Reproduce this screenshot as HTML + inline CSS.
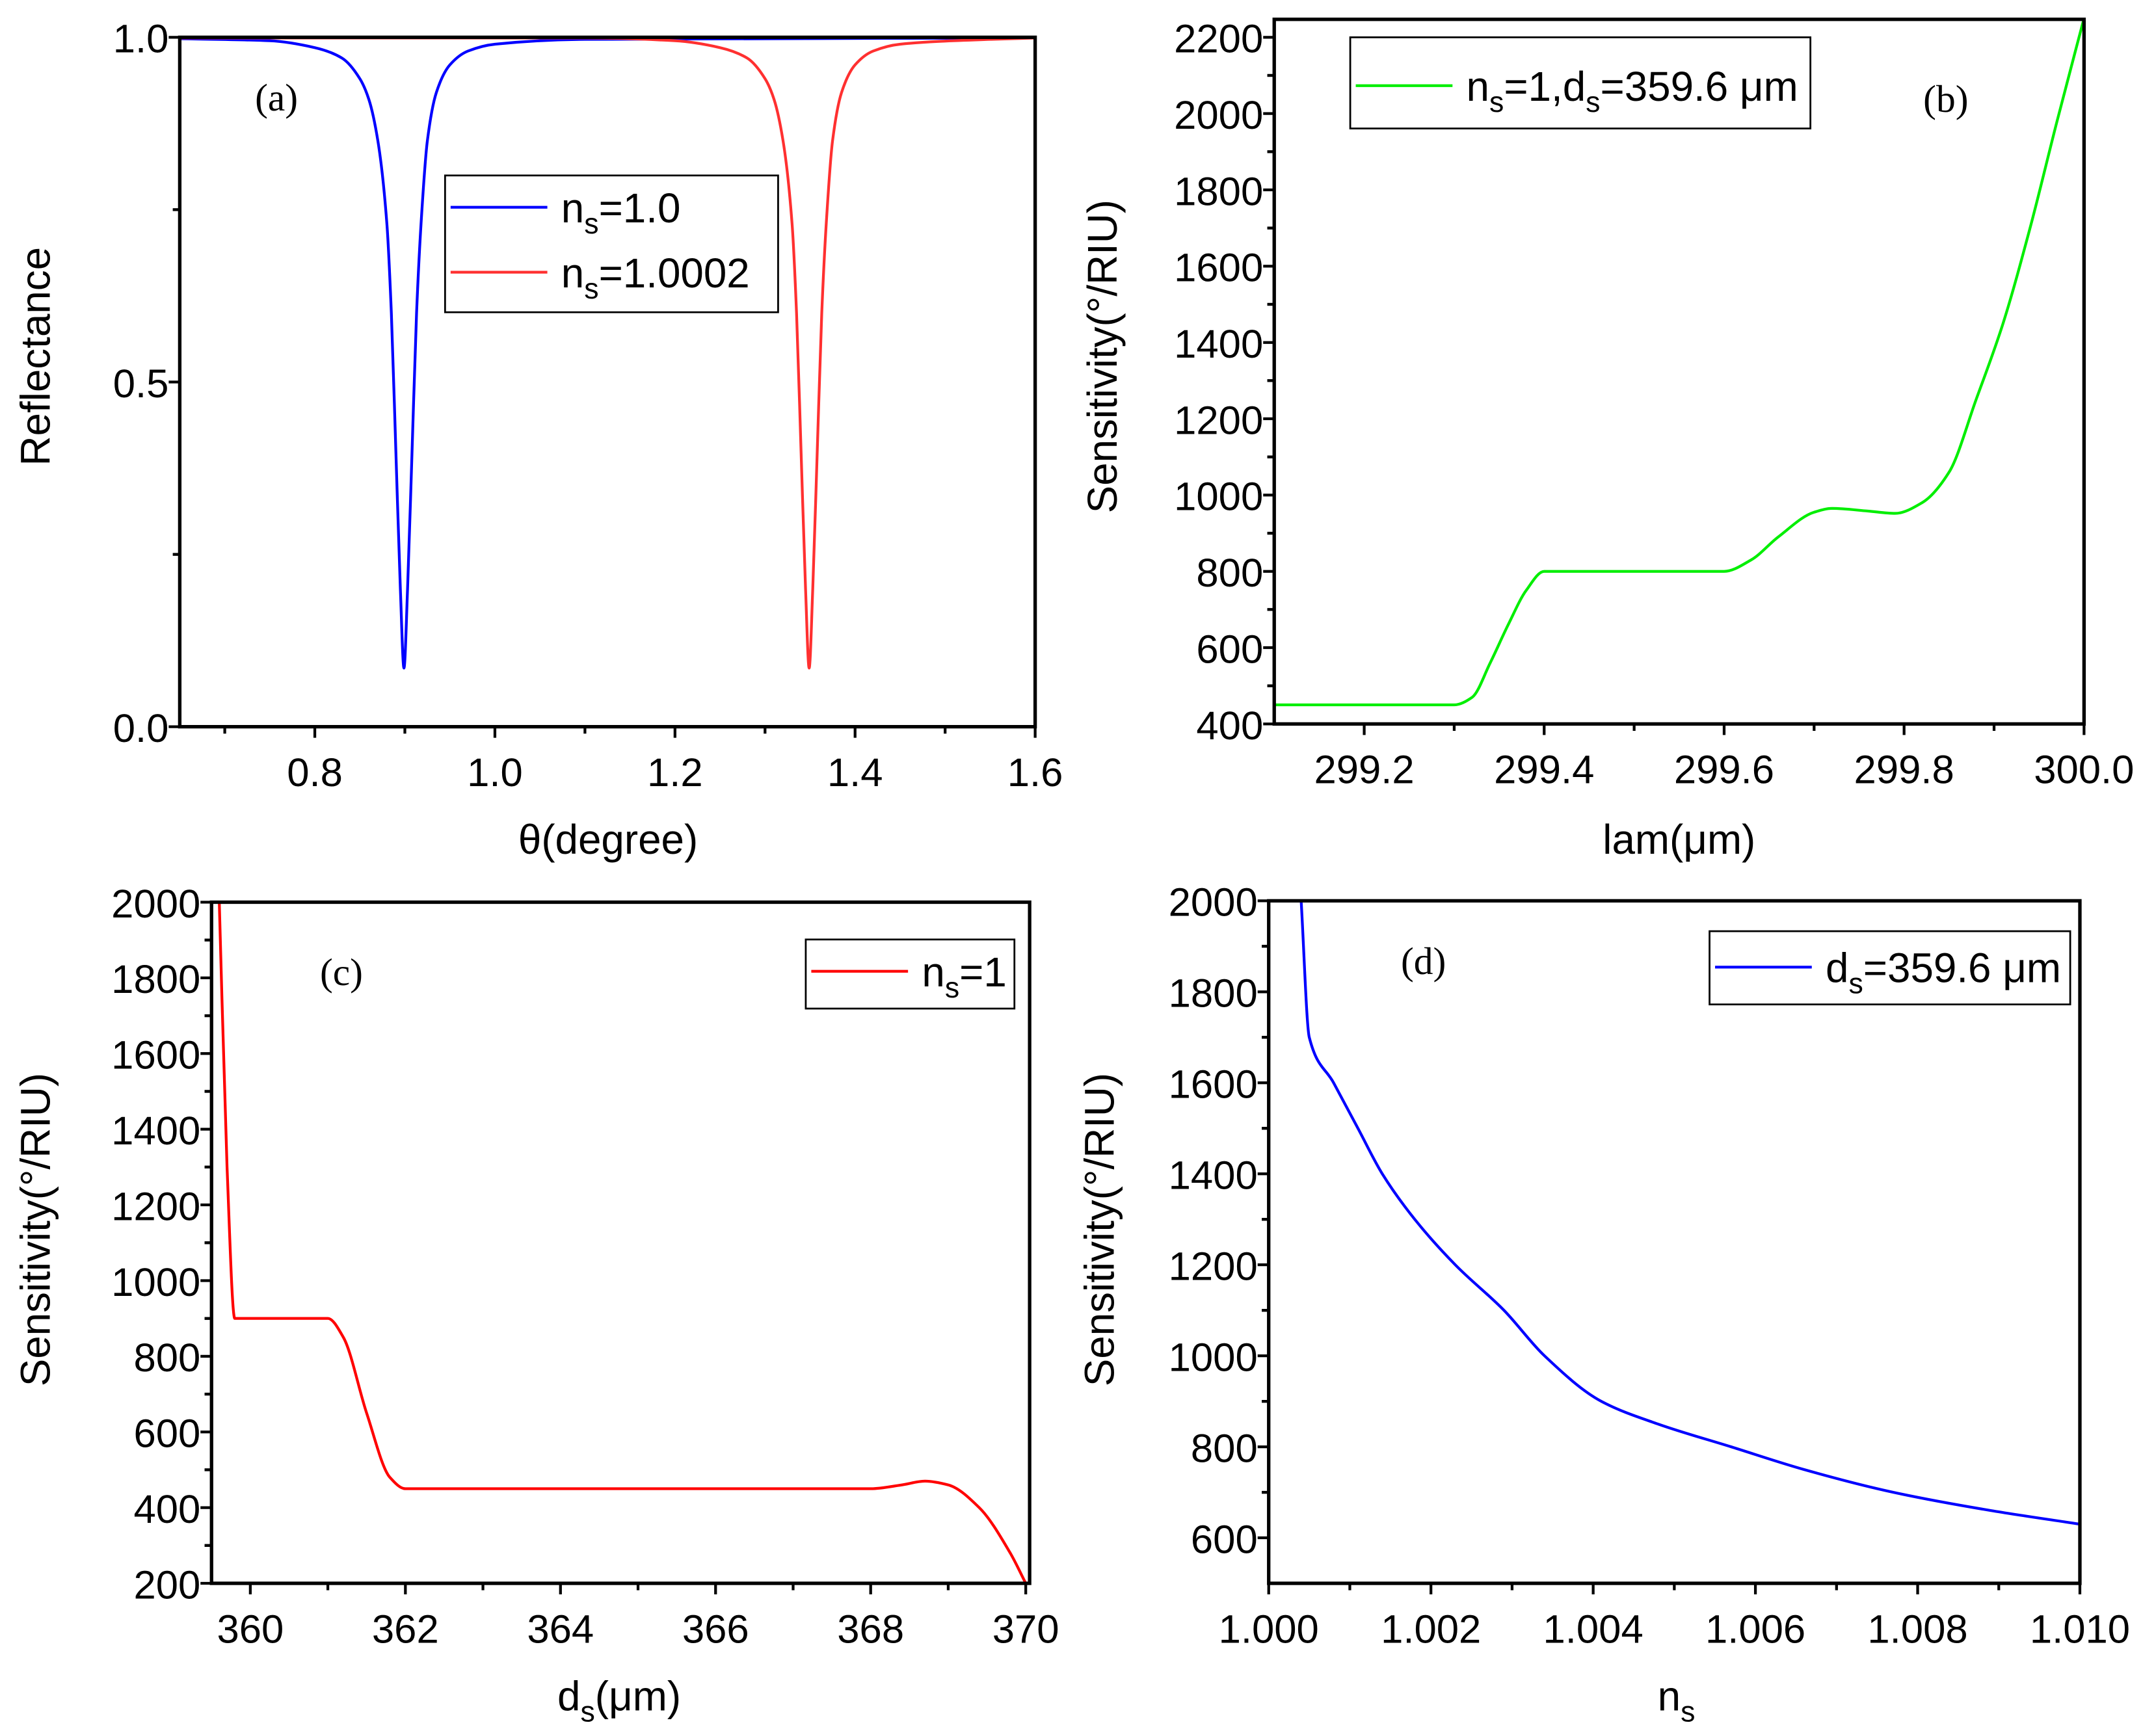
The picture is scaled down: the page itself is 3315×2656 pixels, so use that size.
<!DOCTYPE html>
<html><head><meta charset="utf-8"><style>
html,body{margin:0;padding:0;background:#fff}
svg{display:block}
text{font-family:"Liberation Sans",sans-serif;fill:#000}
.ser{font-family:"Liberation Serif",serif}
</style></head><body>
<svg id="fig" width="3315" height="2656" viewBox="0 0 1560 1250" xmlns="http://www.w3.org/2000/svg"></svg>
<script>
// ---- data ----
const aBlueX=[0.65,0.75,0.8,0.83,0.85,0.86,0.87,0.88,0.885,0.89,0.895,0.899,0.903,0.908,0.913,0.918,0.925,0.935,0.95,0.97,1.0,1.1,1.6];
const aBlueY=[0.998,0.995,0.985,0.97,0.94,0.91,0.85,0.73,0.6,0.4,0.2,0.085,0.2,0.4,0.6,0.73,0.85,0.92,0.96,0.98,0.99,0.997,0.999];
const aRedX=[0.65,1.1,1.2,1.25,1.28,1.3,1.31,1.32,1.33,1.335,1.34,1.345,1.349,1.353,1.358,1.363,1.368,1.375,1.385,1.4,1.42,1.45,1.55,1.6];
const aRedY=[0.999,0.999,0.995,0.985,0.97,0.94,0.91,0.85,0.73,0.6,0.4,0.2,0.085,0.2,0.4,0.6,0.73,0.85,0.92,0.96,0.98,0.99,0.997,0.999];
const bX=[299.1,299.3,299.32,299.34,299.36,299.38,299.4,299.6,299.63,299.66,299.7,299.72,299.76,299.79,299.82,299.85,299.88,299.91,299.94,299.97,300.0];
const bY=[450,450,470,560,660,750,800,800,830,890,955,965,958,952,980,1060,1250,1450,1700,1980,2250];
const cX=[359.6,359.7,359.8,361.0,361.2,361.5,361.8,362.0,368.0,368.4,368.7,369.0,369.4,369.8,370.0];
const cY=[2000,1300,900,900,850,650,480,450,450,460,470,460,400,280,200];
const dX=[1.0004,1.0005,1.0008,1.0011,1.0014,1.0018,1.0023,1.0029,1.0034,1.0041,1.0048,1.0057,1.0066,1.0077,1.0089,1.010];
const dY=[2000,1700,1600,1500,1400,1300,1200,1100,1000,900,850,800,750,700,660,630];
const aXTicks=[0.8,1.0,1.2,1.4,1.6], aXLabels=["0.8","1.0","1.2","1.4","1.6"];
const aYTicks=[0,0.5,1.0], aYLabels=["0.0","0.5","1.0"];
const bXTicks=[299.2,299.4,299.6,299.8,300.0], bXLabels=["299.2","299.4","299.6","299.8","300.0"];
const bYTicks=[400,600,800,1000,1200,1400,1600,1800,2000,2200], bYLabels=bYTicks.map(String);
const cXTicks=[360,362,364,366,368,370], cXLabels=cXTicks.map(String);
const cYTicks=[200,400,600,800,1000,1200,1400,1600,1800,2000], cYLabels=cYTicks.map(String);
const dXTicks=[1.000,1.002,1.004,1.006,1.008,1.010], dXLabels=["1.000","1.002","1.004","1.006","1.008","1.010"];
const dYTicks=[600,800,1000,1200,1400,1600,1800,2000], dYLabels=dYTicks.map(String);

const NS="http://www.w3.org/2000/svg", svg=document.getElementById('fig');
function mk(tag,at,parent){const e=document.createElementNS(NS,tag);for(const k in at)e.setAttribute(k,at[k]);(parent||svg).appendChild(e);return e;}
// monotone cubic (Fritsch-Carlson) in pixel space; x increasing
function smooth(p){const n=p.length;const dx=[],m=[],t=new Array(n);
  for(let i=0;i<n-1;i++){dx[i]=p[i+1][0]-p[i][0];m[i]=(p[i+1][1]-p[i][1])/dx[i];}
  t[0]=m[0];t[n-1]=m[n-2];
  for(let i=1;i<n-1;i++){if(m[i-1]*m[i]<=0)t[i]=0;else{const w1=2*dx[i]+dx[i-1],w2=dx[i]+2*dx[i-1];t[i]=(w1+w2)/(w1/m[i-1]+w2/m[i]);}}
  let d="M"+p[0][0]+","+p[0][1];
  for(let i=0;i<n-1;i++){const h=dx[i]/3;d+=` C${p[i][0]+h},${p[i][1]+t[i]*h} ${p[i+1][0]-h},${p[i+1][1]-t[i+1]*h} ${p[i+1][0]},${p[i+1][1]}`;}
  return d;}

function panel(o){
  const g=mk('g',{});
  
  
  const sx=v=>o.L+(v-o.x0)/(o.x1-o.x0)*(o.R-o.L);
  const sy=v=>o.B-(v-o.y0)/(o.y1-o.y0)*(o.B-o.T);
  o.xt.forEach((v,i)=>{const x=sx(v);mk('line',{x1:x,x2:x,y1:o.B,y2:o.B+8,stroke:'#000','stroke-width':2},g);
    const t=mk('text',{x:x,y:o.B+43,'text-anchor':'middle','font-size':29},g);t.textContent=o.xl[i];
    
    const m=v-o.xs/2; if(m>o.x0) {const xm=sx(m);mk('line',{x1:xm,x2:xm,y1:o.B,y2:o.B+5,stroke:'#000','stroke-width':2},g);}
    if(i==o.xt.length-1&&v+o.xs/2<o.x1){const xm=sx(v+o.xs/2);mk('line',{x1:xm,x2:xm,y1:o.B,y2:o.B+5,stroke:'#000','stroke-width':2},g);}
  });
  o.yt.forEach((v,i)=>{const y=sy(v);mk('line',{x1:o.L-8,x2:o.L,y1:y,y2:y,stroke:'#000','stroke-width':2},g);
    const t=mk('text',{x:o.L-8,y:y+11,'text-anchor':'end','font-size':29},g);t.textContent=o.yl[i];
    
    [v-o.ys/2,v+o.ys/2].forEach(m=>{if(m>o.y0&&m<o.y1){const ym=sy(m);mk('line',{x1:o.L-5,x2:o.L,y1:ym,y2:ym,stroke:'#000','stroke-width':2},g);}});
  });
  const cp=mk('clipPath',{id:'cp'+o.name},g);mk('rect',{x:o.L,y:o.T-1,width:o.R-o.L,height:o.B-o.T+1},cp);
  o.series.forEach(s=>{const pts=s.x.map((v,i)=>[sx(v),sy(s.y[i])]);
    const p=mk('path',{d:smooth(pts),fill:'none',stroke:s.c,'stroke-width':2,'clip-path':`url(#cp${o.name})`},g);
    });
  const f=mk('rect',{x:o.L,y:o.T,width:o.R-o.L,height:o.B-o.T,fill:'none',stroke:'#000','stroke-width':2.5},g);
  
  const xt=mk('text',{x:o.xtx,y:o.xty,'text-anchor':'middle','font-size':30},g);xt.innerHTML=o.xtitle;
  
  const yt=mk('text',{x:0,y:0,'text-anchor':'middle','font-size':30,transform:`translate(${o.ytx},${o.yty}) rotate(-90)`},g);yt.textContent=o.ytitle;
  
  const pl=mk('text',{x:o.plx,y:o.ply,'text-anchor':'middle','font-size':28,class:'ser'},g);pl.textContent=o.pl;
  
  const lg=mk('g',{},g);
  mk('rect',{x:o.lg[0],y:o.lg[1],width:o.lg[2],height:o.lg[3],fill:'#fff',stroke:'#000','stroke-width':1.3},lg);
  o.le.forEach(e=>{mk('line',{x1:o.lg[0]+4,x2:o.lg[0]+74,y1:e.y,y2:e.y,stroke:e.c,'stroke-width':2},lg);
    const t=mk('text',{x:o.lg[0]+84,y:e.y+11,'font-size':30},lg);t.innerHTML=e.t;
    });
}
const sub=s=>`<tspan font-size="21" dy="8">${s}</tspan><tspan dy="-8">`;
panel({name:'panel-a',L:130,R:749,T:27,B:526,x0:0.65,x1:1.6,y0:0,y1:1,xt:aXTicks,xl:aXLabels,xs:0.2,yt:aYTicks,yl:aYLabels,ys:0.5,
  series:[{x:aBlueX,y:aBlueY,c:'#0000ff',n:'series-ns-1.0'},{x:aRedX,y:aRedY,c:'#ff3030',n:'series-ns-1.0002'}],
  xtitle:'θ(degree)',xtx:440,xty:618,ytitle:'Reflectance',ytx:36,yty:258,pl:'(a)',plx:200,ply:80,
  lg:[322,127,241,99],le:[{y:150,c:'#0000ff',t:'n'+sub('s')+'=1.0</tspan>'},{y:197,c:'#ff3030',t:'n'+sub('s')+'=1.0002</tspan>'}]});
panel({name:'panel-b',L:922,R:1508,T:14,B:524,x0:299.1,x1:300.0,y0:400,y1:2247,xt:bXTicks,xl:bXLabels,xs:0.2,yt:bYTicks,yl:bYLabels,ys:200,
  series:[{x:bX,y:bY,c:'#00ee00',n:'series-green'}],
  xtitle:'lam(μm)',xtx:1215,xty:618,ytitle:'Sensitivity(°/RIU)',ytx:808,yty:258,pl:'(b)',plx:1408,ply:81,
  lg:[977,27,333,66],le:[{y:62,c:'#00ee00',t:'n'+sub('s')+'=1,d</tspan>'+sub('s')+'=359.6 μm</tspan>'}]});
panel({name:'panel-c',L:153,R:745,T:653,B:1146,x0:359.5,x1:370.05,y0:200,y1:2000,xt:cXTicks,xl:cXLabels,xs:2,yt:cYTicks,yl:cYLabels,ys:200,
  series:[{x:cX,y:cY,c:'#ff0000',n:'series-red'}],
  xtitle:'d'+sub('s')+'(μm)</tspan>',xtx:448,xty:1238,ytitle:'Sensitivity(°/RIU)',ytx:36,yty:890,pl:'(c)',plx:247,ply:713,
  lg:[583,680,151,50],le:[{y:703,c:'#ff0000',t:'n'+sub('s')+'=1</tspan>'}]});
panel({name:'panel-d',L:918,R:1505,T:652,B:1146,x0:1.0,x1:1.010,y0:500,y1:2000,xt:dXTicks,xl:dXLabels,xs:0.002,yt:dYTicks,yl:dYLabels,ys:200,
  series:[{x:dX,y:dY,c:'#0000ff',n:'series-blue'}],
  xtitle:'n'+sub('s')+'</tspan>',xtx:1213,xty:1238,ytitle:'Sensitivity(°/RIU)',ytx:806,yty:890,pl:'(d)',plx:1030,ply:705,
  lg:[1237,674,261,53],le:[{y:700,c:'#0000ff',t:'d'+sub('s')+'=359.6 μm</tspan>'}]});
</script>
</body></html>
